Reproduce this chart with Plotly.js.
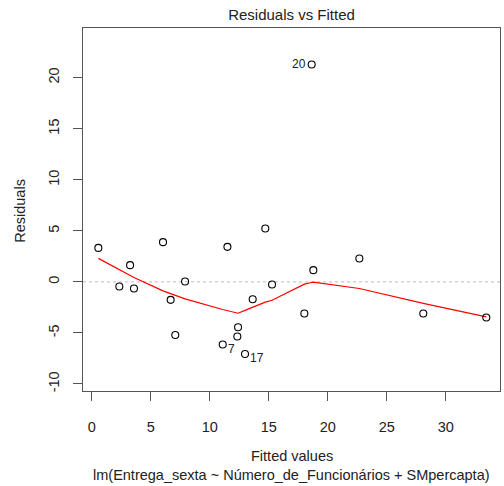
<!DOCTYPE html>
<html>
<head>
<meta charset="utf-8">
<script src="https://cdn.plot.ly/plotly-3.0.1.min.js"></script>
<style>html,body{margin:0;padding:0;background:#fff;}#chart{width:504px;height:486px;}</style>
</head>
<body>
<div id="chart"></div>
<script>
// Fitted values and residuals
const fitted = [0.56, 2.34, 3.25, 3.58, 6.04, 6.69, 7.08, 7.91, 11.1, 11.5, 12.34, 12.4, 12.99, 13.64, 14.71, 15.28, 18.02, 18.64, 18.78, 22.68, 28.1, 33.44];
const residuals = [3.33, -0.45, 1.64, -0.65, 3.89, -1.76, -5.2, 0.04, -6.14, 3.43, -5.35, -4.44, -7.06, -1.70, 5.23, -0.26, -3.10, 21.3, 1.15, 2.29, -3.10, -3.49];
// Smoother (lowess) values at each fitted value
const smooth = [2.3, 1.19, 0.62, 0.43, -0.88, -1.14, -1.3, -1.67, -2.71, -2.84, -3.1, -3.07, -2.79, -2.48, -1.99, -1.8, -0.22, -0.06, -0.03, -0.65, -2.1, -3.43];
// Point labels (observation numbers of the largest residuals)
const pointLabels = ["", "", "", "", "", "", "", "", "7", "", "", "", "17", "", "", "", "", "20", "", "", "", ""];
const xTicks = [0, 5, 10, 15, 20, 25, 30];
const yTicks = [-10, -5, 0, 5, 10, 15, 20];
const yTickText = ["-10", "-5", "0", "5", "10", "15", "20"];

const FONT = "Liberation Sans, Arial, sans-serif";
const TXT = "#222";
const AX = "#555";

const traces = [
  {x: fitted, y: smooth, type: "scatter", mode: "lines",
   line: {color: "#ff0000", width: 1.2}, hoverinfo: "skip"},
  {x: fitted, y: residuals, type: "scatter", mode: "markers",
   marker: {symbol: "circle-open", size: 7, color: "#000", line: {width: 1.1, color: "#000"}}}
];

const annotations = [];
pointLabels.forEach((lab, i) => {
  if (!lab) return;
  const leftSide = fitted[i] > 15;
  annotations.push({
    x: fitted[i], y: residuals[i], xref: "x", yref: "y", text: lab, showarrow: false,
    xanchor: leftSide ? "right" : "left", yanchor: "middle",
    xshift: leftSide ? -4 : 3, yshift: leftSide ? 0 : -4,
    font: {family: FONT, size: 12, color: TXT}
  });
});
annotations.push({
  x: 0.5, y: -0.179, xref: "paper", yref: "paper", text: "Fitted values",
  showarrow: false, xanchor: "center", yanchor: "middle",
  font: {family: FONT, size: 14.5, color: TXT}
});
annotations.push({
  x: 0.5, y: -0.231, xref: "paper", yref: "paper",
  text: "lm(Entrega_sexta ~ Número_de_Funcionários + SMpercapta)",
  showarrow: false, xanchor: "center", yanchor: "middle",
  font: {family: FONT, size: 14.5, color: TXT}
});
annotations.push({
  x: -0.153, y: 0.497, xref: "paper", yref: "paper", text: "Residuals",
  showarrow: false, xanchor: "center", yanchor: "middle", textangle: -90,
  font: {family: FONT, size: 14.5, color: TXT}
});

const layout = {
  width: 504, height: 486,
  margin: {l: 83, r: 4, t: 28, b: 95},
  paper_bgcolor: "#fff", plot_bgcolor: "#fff",
  showlegend: false,
  font: {family: FONT, color: TXT},
  title: {text: "Residuals vs Fitted", x: 0.5, xanchor: "center", xref: "paper",
          y: 1 - 15/486, yref: "container", yanchor: "middle",
          font: {family: FONT, size: 15, color: TXT}},
  xaxis: {range: [-0.74, 34.6], tickmode: "array", tickvals: xTicks, ticktext: xTicks.map(String),
          ticks: "outside", ticklen: 8.5, tickcolor: AX, tickwidth: 1,
          showgrid: false, zeroline: false, showline: true, mirror: true, linecolor: AX, linewidth: 1,
          tickfont: {family: FONT, size: 14.5, color: TXT}, ticklabelstandoff: 14},
  yaxis: {range: [-10.69, 24.87], tickmode: "array", tickvals: yTicks, ticktext: yTickText,
          ticks: "outside", ticklen: 9, tickcolor: AX, tickwidth: 1, tickangle: -90,
          showgrid: false, zeroline: false, showline: true, mirror: true, linecolor: AX, linewidth: 1,
          tickfont: {family: FONT, size: 14.5, color: TXT}, ticklabelstandoff: 8},
  shapes: [{type: "line", xref: "paper", x0: 0, x1: 1, yref: "y", y0: 0, y1: 0,
            line: {color: "#bbbbbb", width: 1, dash: "dot"}, layer: "below"}],
  annotations: annotations
};

Plotly.newPlot("chart", traces, layout, {displayModeBar: false, staticPlot: true});
</script>
</body>
</html>
